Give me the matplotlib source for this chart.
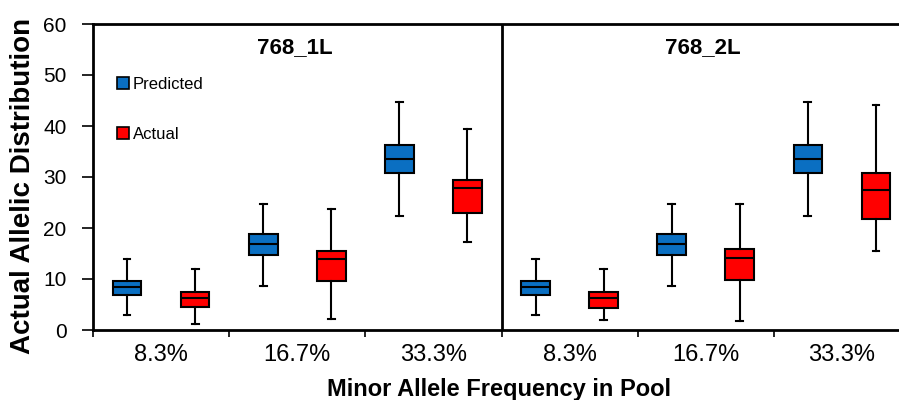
import matplotlib.pyplot as plt
from matplotlib.lines import Line2D

plt.rcParams['font.family'] = ['Liberation Sans', 'DejaVu Sans']

panels = ["768_1L", "768_2L"]
freq_labels = ["8.3%", "16.7%", "33.3%"]

# per panel, per frequency: (whisker low, q1, median, q3, whisker high)
pred_1L = [(2.9, 6.9, 8.4, 9.7, 13.9), (8.7, 14.8, 16.9, 18.8, 24.8), (22.3, 30.7, 33.6, 36.3, 44.8)]
act_1L = [(1.1, 4.6, 6.3, 7.5, 12.0), (2.2, 9.7, 13.9, 15.5, 23.8), (17.3, 22.9, 27.9, 29.4, 39.5)]
pred_2L = [(2.9, 6.9, 8.4, 9.7, 13.9), (8.7, 14.8, 16.9, 18.8, 24.8), (22.3, 30.7, 33.6, 36.3, 44.8)]
act_2L = [(2.0, 4.4, 6.3, 7.5, 11.9), (1.7, 9.8, 14.2, 15.8, 24.8), (15.5, 21.8, 27.4, 30.7, 44.2)]

blue = "#0A6FC2"
red = "#FF0000"


def stats(rows):
    return [dict(whislo=r[0], q1=r[1], med=r[2], q3=r[3], whishi=r[4], fliers=[]) for r in rows]


fig = plt.figure(figsize=(8.99, 4.0), dpi=100)
ax = fig.add_axes([93 / 899, 1 - 330 / 400, 817 / 899, 306 / 400])

for p, (pred, act) in enumerate([(pred_1L, act_1L), (pred_2L, act_2L)]):
    base = 3 * p
    for rows, off, col in [(pred, 0.25, blue), (act, 0.75, red)]:
        pos = [base + i + off for i in range(len(rows))]
        ax.bxp(stats(rows), positions=pos, widths=0.21, capwidths=0.05,
               patch_artist=True, showfliers=False,
               boxprops=dict(facecolor=col, edgecolor="black", linewidth=1.5),
               medianprops=dict(color="black", linewidth=1.5),
               whiskerprops=dict(color="black", linewidth=1.5),
               capprops=dict(color="black", linewidth=1.5))
    ax.text(base + 1.5 - 0.02, 55.3, panels[p], ha="center", va="center",
            fontsize=16, fontweight="bold")

ax.axvline(3, color="black", linewidth=2)
ax.set_xlim(0, 6)
ax.set_ylim(0, 60)
ax.set_yticks(range(0, 61, 10))
ax.set_xticks(range(0, 7))
ax.set_xticklabels([])
ax.set_xticks([i + 0.5 for i in range(6)], minor=True)
ax.set_xticklabels(freq_labels * 2, minor=True, fontsize=17)
ax.tick_params(axis="x", which="minor", length=0, pad=10)
ax.tick_params(axis="x", which="major", length=5, width=1.2)
ax.tick_params(axis="y", length=8, width=1.2, labelsize=15, pad=11)
for s in ax.spines.values():
    s.set_linewidth(2)

fig.text(23 / 899, 1 - 186 / 400, "Actual Allelic Distribution", rotation=90,
         ha="center", va="center", fontsize=20, fontweight="bold")
fig.text(499 / 899, 1 - 396 / 400, "Minor Allele Frequency in Pool", ha="center",
         va="baseline", fontsize=17, fontweight="bold")

handles = [Line2D([], [], linestyle="none", marker="s", markersize=9, markerfacecolor=blue,
                  markeredgecolor="black", markeredgewidth=1.2),
           Line2D([], [], linestyle="none", marker="s", markersize=9, markerfacecolor=red,
                  markeredgecolor="black", markeredgewidth=1.2)]
ax.legend(handles, ["Predicted", "Actual"], loc="upper left", bbox_to_anchor=(0.01, 0.875),
          frameon=False, fontsize=12, labelspacing=2.1, handlelength=0.8, handletextpad=0.2)

fig.savefig("out.png", dpi=100)
